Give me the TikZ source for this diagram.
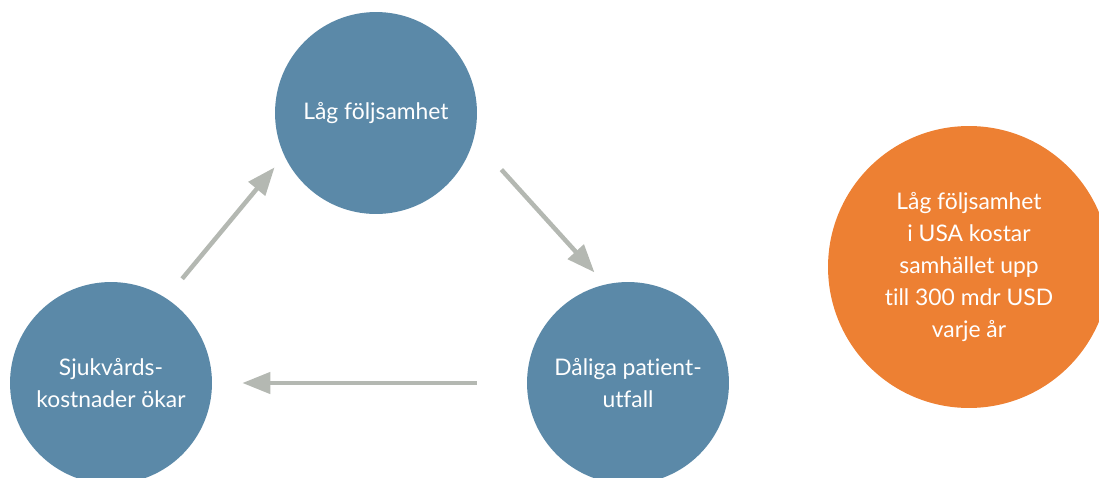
\documentclass[tikz,border=0pt]{standalone}
\usepackage{fontspec}
\setmainfont{Lato}[Ligatures=NoCommon]
\usetikzlibrary{arrows.meta}
\usepackage{xcolor}
\definecolor{cycleblue}{HTML}{5B89A8}
\definecolor{factorange}{HTML}{ED8033}
\definecolor{arrowgray}{HTML}{B4B8B2}
\begin{document}
\begin{tikzpicture}[x=0.02cm, y=-0.02cm]
\tikzset{
    bluecircle/.style={circle, fill=cycleblue, minimum size=4.04cm, inner sep=0pt, text=white, align=center, font=\fontsize{13}{18.2}\selectfont},
    orangecircle/.style={circle, fill=factorange, minimum size=5.64cm, inner sep=0pt, text=white, align=center, font=\fontsize{13}{18.2}\selectfont},
    cyclearrow/.style={-{Triangle[length=0.56cm, width=0.42cm]}, line width=0.09cm, draw=arrowgray}
}
\useasboundingbox (0,0) rectangle (1099,477);
\node[bluecircle] (lowadh) at (376,113) {Låg följsamhet};
\node[bluecircle] (costs) at (111,383) {Sjukvårds-\\kostnader ökar};
\node[bluecircle] (outcome) at (628,383) {Dåliga patient-\\utfall};
\node[orangecircle] (usfact) at (969,267) {Låg följsamhet\\i USA kostar\\samhället upp\\till 300 mdr USD\\varje år};
% The orange circle runs past the right edge of the page on purpose.

\draw[cyclearrow, shorten <=0.5cm, shorten >=0.3cm] (costs.57) -- (lowadh.205);
\draw[cyclearrow, shorten <=0.82cm, shorten >=0.32cm] (lowadh.-15) -- (outcome.103);
\draw[cyclearrow, shorten <=1cm, shorten >=0.6cm] (outcome.west) -- (costs.east);
% The arrows leave a gap to each circle, hence the shorten values.

\end{tikzpicture}
\end{document}
